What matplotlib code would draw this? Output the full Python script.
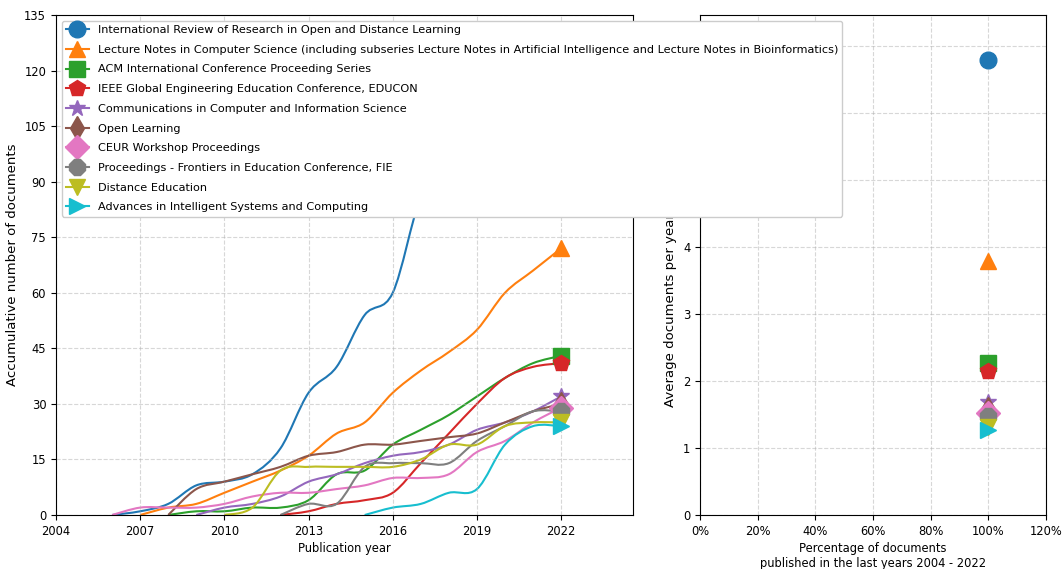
import matplotlib
matplotlib.use('Agg')
import matplotlib.pyplot as plt
from matplotlib.path import Path
from matplotlib.patches import PathPatch
from matplotlib.ticker import PercentFormatter

years = list(range(2004, 2023))

sources = [
    'International Review of Research in Open and Distance Learning',
    'Lecture Notes in Computer Science (including subseries Lecture Notes in Artificial Intelligence and Lecture Notes in Bioinformatics)',
    'ACM International Conference Proceeding Series',
    'IEEE Global Engineering Education Conference, EDUCON',
    'Communications in Computer and Information Science',
    'Open Learning',
    'CEUR Workshop Proceedings',
    'Proceedings - Frontiers in Education Conference, FIE',
    'Distance Education',
    'Advances in Intelligent Systems and Computing',
]

# cumulative documents per year, 2004 - 2022
irrodl = [0, 0, 0, 1, 3, 8, 9, 11, 18, 33, 40, 54, 60, 86, 98, 108, 117, 124, 129]
lncs = [0, 0, 0, 0, 2, 3, 6, 9, 12, 16, 22, 25, 33, 39, 44, 50, 60, 66, 72]
acm = [0, 0, 0, 0, 0, 1, 1, 2, 2, 4, 11, 12, 19, 23, 27, 32, 37, 41, 43]
educon = [0, 0, 0, 0, 0, 0, 0, 0, 0, 1, 3, 4, 6, 14, 22, 30, 37, 40, 41]
ccis = [0, 0, 0, 0, 0, 0, 2, 3, 5, 9, 11, 14, 16, 17, 19, 23, 25, 28, 32]
open_learning = [0, 0, 0, 0, 0, 7, 9, 11, 13, 16, 17, 19, 19, 20, 21, 22, 25, 28, 30]
ceur = [0, 0, 0, 2, 2, 2, 3, 5, 6, 6, 7, 8, 10, 10, 11, 17, 20, 25, 29]
fie = [0, 0, 0, 0, 0, 0, 0, 0, 0, 3, 3, 13, 14, 14, 14, 20, 24, 28, 28]
distance_ed = [0, 0, 0, 0, 0, 0, 0, 2, 12, 13, 13, 13, 13, 15, 19, 19, 24, 25, 25]
aisc = [0, 0, 0, 0, 0, 0, 0, 0, 0, 0, 0, 0, 2, 3, 6, 7, 19, 24, 24]

series = [irrodl, lncs, acm, educon, ccis, open_learning, ceur, fie, distance_ed, aisc]
# share of documents published inside 2004 - 2022
pct_recent = [100, 100, 100, 100, 100, 100, 100, 100, 100, 100]

markers = ['o', '^', 's', 'p', '*', 'd', 'D', '8', 'v', '>']
colors = plt.rcParams['axes.prop_cycle'].by_key()['color']

plt.rcParams['font.size'] = 8.3


def smooth_path(xs, ys):
    # Catmull-Rom style bezier through the yearly points
    pts = list(zip(xs, ys))
    verts = [pts[0]]
    codes = [Path.MOVETO]
    for i in range(len(pts) - 1):
        p0 = pts[i - 1] if i > 0 else pts[i]
        p1 = pts[i]
        p2 = pts[i + 1]
        p3 = pts[i + 2] if i + 2 < len(pts) else pts[i + 1]
        c1 = (p1[0] + (p2[0] - p0[0]) / 6, p1[1] + (p2[1] - p0[1]) / 6)
        c2 = (p2[0] - (p3[0] - p1[0]) / 6, p2[1] - (p3[1] - p1[1]) / 6)
        verts += [c1, c2, p2]
        codes += [Path.CURVE4] * 3
    return Path(verts, codes)


fig = plt.figure(figsize=(10.62, 5.69), dpi=100)
ax1 = fig.add_axes([0.0527, 0.0949, 0.5433, 0.8787])
ax2 = fig.add_axes([0.6591, 0.0949, 0.3258, 0.8787])

for i, vals in enumerate(series):
    # start the line at the last zero year before the first document
    first = next(k for k, v in enumerate(vals) if v > 0)
    start = max(first - 1, 0)
    xs = years[start:]
    ys = vals[start:]
    ax1.add_patch(PathPatch(smooth_path(xs, ys), fill=False,
                            edgecolor=colors[i], lw=1.5))
    ax1.plot([xs[-1]], [ys[-1]], marker=markers[i], markersize=12,
             color=colors[i], linestyle='-', lw=1.5, label=sources[i])

    avg = vals[-1] / len(years)
    ax2.plot([pct_recent[i]], [avg], marker=markers[i], markersize=12,
             color=colors[i], linestyle='')

ax1.set_xlim(2004, 2024.56)
ax1.set_ylim(0, 135)
ax1.set_xticks(range(2004, 2023, 3))
ax1.set_yticks(range(0, 136, 15))
ax1.set_xlabel('Publication year', labelpad=3)
ax1.set_ylabel('Accumulative number of documents', fontsize=9.5)
ax1.grid(True, linestyle='--', alpha=0.5)

ax2.set_xlim(0, 120)
ax2.set_ylim(0, max(irrodl[-1] / len(years), 1) * 1.1)
ax2.set_xticks(range(0, 121, 20))
ax2.xaxis.set_major_formatter(PercentFormatter(decimals=0))
ax2.set_xlabel('Percentage of documents\npublished in the last years 2004 - 2022',
               labelpad=3)
ax2.set_ylabel('Average documents per year, 2004 - 2022', fontsize=9.5)
ax2.grid(True, linestyle='--', alpha=0.5)

# legend of the left axes sits over the right one
ax1.set_zorder(ax2.get_zorder() + 1)
ax1.legend(loc='upper left', framealpha=1, fontsize=8.1, labelspacing=0.86)

plt.savefig('out.png', dpi=100)
